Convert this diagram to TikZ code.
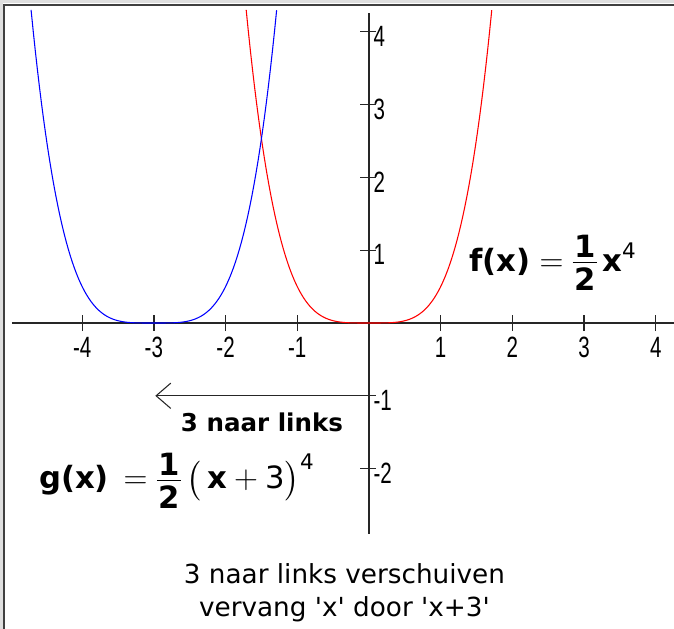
\documentclass[tikz,border=0pt]{standalone}
\usepackage{amsmath}
\usepackage{fontspec}
\setmainfont{DejaVu Sans}
\newfontfamily\tickfont[FakeStretch=0.7]{Liberation Sans}
\usetikzlibrary{arrows.meta,positioning}

% compact bold one half
\newcommand{\halfbf}{\ensuremath{\vcenter{\offinterlineskip
    \halign{\hfil\kern1pt##\kern1pt\hfil\cr
        \textbf{1}\cr
        \noalign{\kern3pt\hrule height 1.2pt\kern3pt}
        \textbf{2}\cr}}}}

\begin{document}
\begin{tikzpicture}[
    x=53.78pt,
    y=54.6pt,
    axisline/.style={line width=1.3pt, black!85},
    tickmark/.style={line width=1pt, black!85},
    ticklbl/.style={
        font=\tickfont\fontsize{22}{22}\selectfont,
        inner sep=0pt,
        text=black
    },
    curve/.style={line width=0.8pt, samples=120},
    shiftarr/.style={
        line width=1pt,
        black!85,
        -{Straight Barb[length=11pt,width=19pt,line width=0.8pt]}
    },
    formula/.style={
        font=\fontsize{23}{27}\selectfont,
        inner sep=0pt,
        anchor=base west
    },
    shiftlbl/.style={font=\bfseries\fontsize{18.4}{22}\selectfont, inner sep=0pt},
    caption/.style={
        font=\fontsize{19.7}{24.75}\selectfont,
        align=center,
        inner sep=0pt
    }
]

% page and frame
\coordinate (tl) at (-5.146,4.437);
\coordinate (tr) at (4.254,4.437);
\coordinate (bl) at (-5.146,-4.203);
\path[use as bounding box] (bl) rectangle (tr);
\fill[gray!25] (tl) rectangle ([yshift=-2.3pt]tr);
\fill[gray!25] (tl) rectangle ([xshift=1.9pt]bl);
\draw[line width=1.5pt, black!75] ([xshift=2.8pt]bl) |- ([yshift=-3.8pt]tr);

% axes
\coordinate (xmin) at (-4.979,0);
\coordinate (xmax) at (4.254,0);
\coordinate (ymin) at (0,-2.898);
\coordinate (ymax) at (0,4.26);
\draw[axisline] (xmin) -- (xmax);
\draw[axisline] (ymin) -- (ymax);

\foreach \k in {-4,-3,-2,-1,1,2,3,4} {
    \draw[tickmark] (\k,-0.11) -- (\k,0.11);
    \node[ticklbl] (xl\k) at (\k,-0.33) {\k};
}
\foreach \k in {-2,-1,1,2,3,4} {
    \draw[tickmark] (-0.12,\k) -- (0.1,\k);
    \node[ticklbl, anchor=west] (yl\k) at (0.06,\k-0.06) {\k};
}

% curves
\draw[curve, red] plot[domain=-1.7125:1.7125] (\x,{0.5*\x*\x*\x*\x});
\draw[curve, blue] plot[domain=-4.7125:-1.2875] (\x,{0.5*(\x+3)*(\x+3)*(\x+3)*(\x+3)});

% shift arrow
\coordinate (shiftfrom) at (0,-1);
\coordinate (shiftto) at (-2.98,-1);
\draw[shiftarr] (shiftfrom) -- (shiftto);
\node[shiftlbl] (shifttxt) at (-1.492,-1.37) {3 naar links};

% formulas
\node[formula] (fx) at (1.395,0.714)
{$\text{\bfseries f(x)} = \halfbf\,\text{\bfseries x}^{\text{4}}$};
\node[formula] (gx) at (-4.603,-2.28)
{$\text{\bfseries g(x)}\, = \halfbf\,\bigl(\,\text{\bfseries x} + \text{3}\bigr)^{\text{4}}$};

% caption
\node[caption] (cap) at (-0.342,-3.709)
{3 naar links verschuiven\\vervang \textquotesingle x\textquotesingle{} door \textquotesingle x+3\textquotesingle};

\end{tikzpicture}
\end{document}
